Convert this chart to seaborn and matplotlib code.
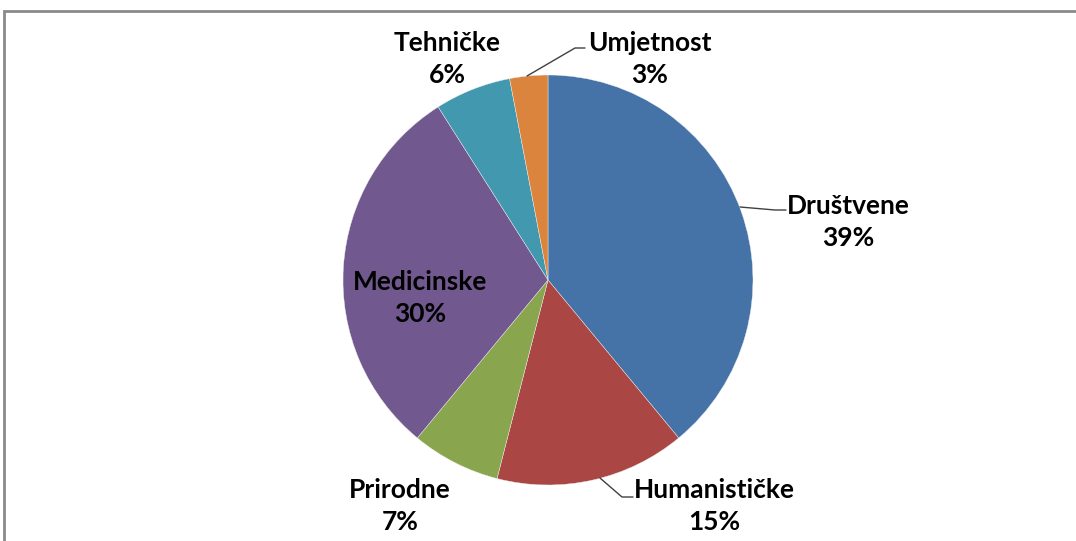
import matplotlib
matplotlib.use("Agg")
import matplotlib.pyplot as plt
import seaborn as sns
import numpy as np
from matplotlib.patches import Rectangle

# ---- data ----
categories = ["Društvene", "Humanističke", "Prirodne", "Medicinske", "Tehničke", "Umjetnost"]
values = [39, 15, 7, 30, 6, 3]
colors = ["#4572A7", "#AA4643", "#89A54E", "#71588F", "#4198AF", "#DB843D"]

sns.set_theme(style="white")
plt.rcParams["font.family"] = ["Lato", "DejaVu Sans"]

W, H = 1076, 541
fig = plt.figure(figsize=(W / 100, H / 100), dpi=100)
fig.patch.set_facecolor("white")
ax = fig.add_axes([0, 0, 1, 1])
ax.set_xlim(0, W)
ax.set_ylim(0, H)
ax.set_aspect("equal")
ax.axis("off")

cx, cy, R = 548, H - 280, 205
wedges, _ = ax.pie(values, colors=colors, startangle=90, counterclock=False,
                   center=(cx, cy), radius=R,
                   wedgeprops=dict(edgecolor="#f0f0f0", linewidth=0.3))
ax.set_xlim(0, W)
ax.set_ylim(0, H)

# label layout (pixel positions measured from top)
label_pos = {
    "Društvene": (848, 222),
    "Humanističke": (714, 506),
    "Prirodne": (400, 506),
    "Medicinske": (420, 298),
    "Tehničke": (447, 59),
    "Umjetnost": (650, 59),
}
for cat, val in zip(categories, values):
    x, y = label_pos[cat]
    ax.text(x, H - y, f"{cat}\n{val}%", ha="center", va="center",
            fontsize=19, fontweight="bold", color="black", linespacing=1.42)

# leader lines
leaders = [
    [(740, 207), (775, 210), (786, 210)],
    [(600, 478), (622, 497), (633, 497)],
    [(527, 76), (575, 48), (585, 48)],
]
for pts in leaders:
    xs = [p[0] for p in pts]
    ys = [H - p[1] for p in pts]
    ax.plot(xs, ys, color="#404040", linewidth=1.0)

# chart frame (partially cropped in the reference)
fig.patches.append(Rectangle((4 / W, -0.1), 1.2, (H - 11) / H + 0.1,
                             transform=fig.transFigure, fill=False,
                             edgecolor="#8a8a8a", linewidth=2.0))

fig.savefig("out.png", dpi=100, facecolor="white")
